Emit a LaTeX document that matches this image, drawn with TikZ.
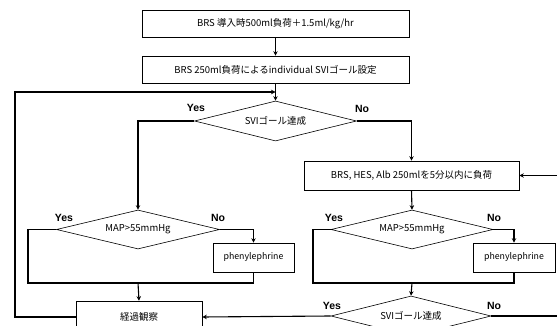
\documentclass[tikz,border=0pt]{standalone}
\usepackage{fontspec}
\setmainfont{Noto Sans CJK JP}
\newfontfamily\ynfont{Liberation Sans}
\usetikzlibrary{shapes.geometric,arrows.meta}
\begin{document}
\begin{tikzpicture}[x=1pt,y=-1pt,
  txt/.style={font=\fontsize{9.5}{11}\selectfont},
  box/.style={draw, line width=0.6pt, rectangle, inner sep=0pt, txt},
  smallbox/.style={box, font=\fontsize{8.8}{10}\selectfont},
  dia/.style={draw, line width=0.6pt, diamond, aspect=4, inner sep=0pt, txt},
  conn/.style={line width=1.1pt},
  arr/.style={conn, -{Stealth[length=4.5pt,width=4.5pt]}},
  yn/.style={font=\ynfont\bfseries\fontsize{10.5}{12}\selectfont, inner sep=0pt}
]
\useasboundingbox (0,0) rectangle (557,326);
\fill[white] (0,0) rectangle (557,326);
\clip (0,0) rectangle (557,326);

\node[box, minimum width=267pt, minimum height=27pt] (b1) at (275.5,23.5) {BRS 導入時500ml負荷＋1.5ml/kg/hr};
\node[box, minimum width=267pt, minimum height=27pt] (b2) at (275.5,69.5) {BRS 250ml負荷によるindividual SVIゴール設定};
\node[dia, minimum width=162pt, minimum height=40pt] (d1) at (275.5,121) {SVIゴール達成};
\node[box, minimum width=215pt, minimum height=29pt] (b3) at (411.5,175.5) {BRS, HES, Alb 250mlを5分以内に負荷};
\node[dia, minimum width=163pt, minimum height=39pt] (d2) at (138,229.5) {MAP>55mmHg};
\node[smallbox, minimum width=81pt, minimum height=29pt] (p1) at (253.5,257.5) {phenylephrine};
\node[dia, minimum width=162pt, minimum height=39pt] (d3) at (412,229.5) {MAP>55mmHg};
\node[smallbox, minimum width=82pt, minimum height=29pt] (p2) at (514,257.5) {phenylephrine};
\node[box, minimum width=126pt, minimum height=32pt] (obs) at (139,317) {経過観察};
\node[dia, minimum width=160pt, minimum height=40pt] (d4) at (411,316) {SVIゴール達成};

\node[yn] (y1) at (196,108) {Yes};
\node[yn] (n1) at (362,109) {No};
\node[yn] (y2) at (64,217.5) {Yes};
\node[yn] (n2) at (218,217.5) {No};
\node[yn] (y3) at (334,217.5) {Yes};
\node[yn] (n3) at (494,217.5) {No};
\node[yn] (y4) at (332,306) {Yes};
\node[yn] (n4) at (494,306) {No};

\coordinate (j1) at (275.5,92);
\coordinate (m1) at (138,283);
\coordinate (m2) at (412,283);

\draw[arr] (b1.south) -- (b2.north);
\draw[arr] (b2.south) -- (d1.north);
\draw[arr] (obs.west) -- (15,317) -- (15,92) -- (j1);
\draw[arr] (d1.west) -| (d2.north);
\draw[arr] (d1.east) -| (b3.north);
\draw[arr] (b3.south) -- (d3.north);

\draw[arr] (d2.east) -| (p1.north);
\draw[conn] (d2.west) -- (28,229.5) |- (m1) -| (p1.south);
\draw[arr] (m1) -- (obs.north);

\draw[arr] (d3.east) -| (p2.north);
\draw[conn] (d3.west) -- (313,229.5) |- (m2) -| (p2.south);
\draw[arr] (m2) -- (d4.north);

\draw[arr] (d4.west) -- (obs.east);
\draw[arr] (d4.east) -- (575,316) |- (b3.east);
\end{tikzpicture}
\end{document}
